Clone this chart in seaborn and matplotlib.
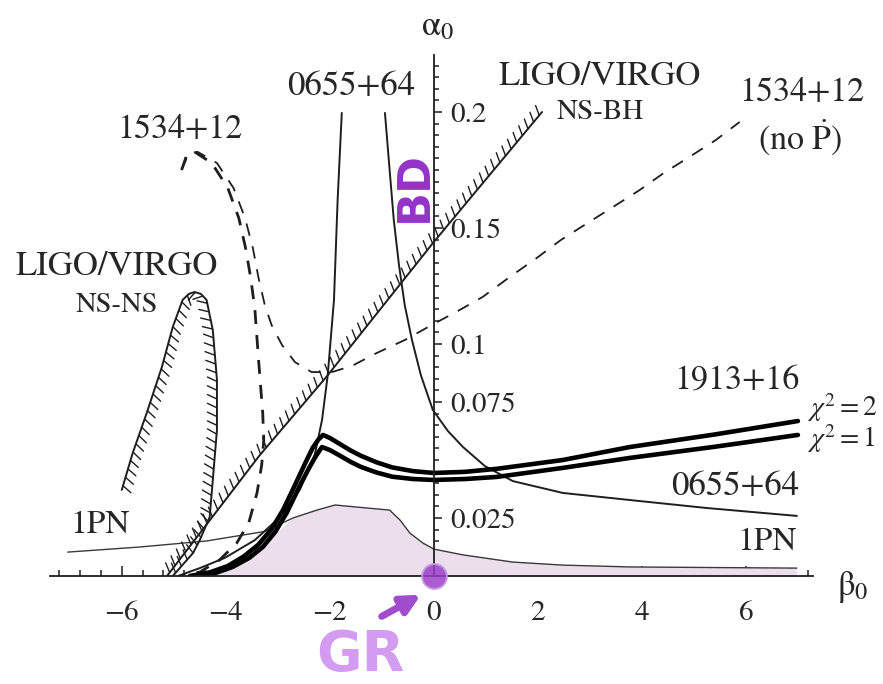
import matplotlib
matplotlib.use("Agg")
import matplotlib.pyplot as plt
import matplotlib.patheffects as pe
from matplotlib.ticker import MultipleLocator, FixedLocator, FixedFormatter
import numpy as np
import pandas as pd
import seaborn as sns

# --- curves: (beta0, alpha0) ---
# LIGO/VIRGO NS-NS excluded loop
nsns_beta = [-6.0, -5.79, -5.52, -5.23, -5.02, -4.83, -4.71, -4.6, -4.48, -4.37, -4.25, -4.17, -4.17, -4.25, -4.31, -4.5, -4.63, -5.02]
nsns_alpha = [0.0371, 0.053, 0.0703, 0.090, 0.1073, 0.119, 0.1216, 0.1224, 0.1216, 0.119, 0.106, 0.0845, 0.0629, 0.0414, 0.0254, 0.0155, 0.0099, 0.0]

# LIGO/VIRGO NS-BH line
nsbh_beta = [-5.13, -3.35, -2.06, 0.0, 2.08]
nsbh_alpha = [0.0, 0.052, 0.086, 0.144, 0.2]

# 0655+64, two branches
psr0655_left_beta = [-1.77, -1.85, -1.92, -2.04, -2.15, -2.29, -2.58, -2.96, -3.44, -4.02, -4.5, -4.92]
psr0655_left_alpha = [0.1996, 0.162, 0.119, 0.0866, 0.0672, 0.0522, 0.0371, 0.0254, 0.0155, 0.0078, 0.0034, 0.0]
psr0655_right_beta = [-0.94, -0.85, -0.77, -0.67, -0.56, -0.42, -0.25, -0.02, 0.27, 0.56, 0.98, 1.52, 2.48, 3.96, 5.25, 6.98]
psr0655_right_alpha = [0.1996, 0.175, 0.1534, 0.134, 0.1168, 0.1017, 0.0866, 0.0716, 0.0625, 0.0556, 0.0474, 0.0409, 0.0358, 0.0323, 0.0293, 0.0259]

# 1913+16, chi2 = 1 and chi2 = 2
psr1913_chi1_beta = [-4.5, -4.2, -3.87, -3.55, -3.29, -3.05, -2.83, -2.65, -2.52, -2.4, -2.29, -2.2, -2.15,
                     -2.0, -1.8, -1.6, -1.4, -1.1, -0.8, -0.4, 0.0, 0.6, 1.21, 2.48, 3.77, 5.4, 7.0]
psr1913_chi1_alpha = [0.0, 0.0013, 0.0039, 0.0078, 0.0125, 0.019, 0.0272, 0.0355, 0.0414, 0.0465, 0.0509, 0.054, 0.0556,
                      0.0543, 0.0518, 0.0492, 0.047, 0.0446, 0.0428, 0.0418, 0.0414, 0.0418, 0.0427, 0.0466, 0.0509, 0.0557, 0.0608]
psr1913_chi2_beta = [-4.69, -4.3, -3.96, -3.65, -3.38, -3.12, -2.90, -2.72, -2.58, -2.45, -2.33, -2.22, -2.13,
                     -2.0, -1.8, -1.6, -1.4, -1.1, -0.8, -0.4, 0.0, 0.6, 1.21, 2.48, 3.77, 5.4, 7.0]
psr1913_chi2_alpha = [0.0, 0.0016, 0.0043, 0.0085, 0.0134, 0.0202, 0.0284, 0.0368, 0.0435, 0.0497, 0.0552, 0.0588, 0.0608,
                      0.0595, 0.0568, 0.0541, 0.0518, 0.049, 0.0468, 0.0452, 0.0444, 0.0449, 0.0462, 0.05, 0.0556, 0.061, 0.0668]

# 1534+12 with Pdot (thick dashes) and without Pdot (thin dashes)
psr1534_beta = [-4.85, -4.75, -4.6, -4.27, -3.96, -3.75, -3.62, -3.52, -3.44, -3.37, -3.29, -3.27, -3.31, -3.4, -3.56, -3.79, -4.12, -4.5, -4.85]
psr1534_alpha = [0.175, 0.1815, 0.1828, 0.178, 0.1672, 0.1543, 0.1414, 0.1284, 0.1147, 0.0931, 0.0703, 0.0586, 0.0478, 0.0358, 0.0228, 0.0142, 0.0069, 0.0017, 0.0]
psr1534_nopdot_beta = [-4.85, -4.71, -4.54, -4.17, -3.85, -3.63, -3.48, -3.37, -3.25, -3.12, -2.92, -2.67, -2.35, -1.96, -1.58, -1.1, -0.56, -0.04, 0.5, 0.94, 1.46, 1.98, 2.44, 2.96, 3.44, 3.96, 4.42, 4.94, 5.42, 5.88]
psr1534_nopdot_alpha = [0.175, 0.1823, 0.1828, 0.178, 0.1672, 0.1543, 0.1414, 0.1284, 0.1168, 0.1082, 0.0996, 0.0922, 0.0879, 0.0879, 0.0905, 0.0961, 0.1017, 0.1082, 0.1147, 0.1203, 0.1289, 0.1371, 0.1448, 0.1522, 0.159, 0.1664, 0.1737, 0.181, 0.1879, 0.1957]

# 1PN bound (upper edge of the shaded region)
pn_beta = [-7.04, -5.65, -4.37, -3.25, -2.71, -2.25, -1.90, -0.85, -0.65, -0.46, -0.21, 0.0, 0.56, 1.52, 2.48, 3.77, 6.98]
pn_alpha = [0.0103, 0.0125, 0.0151, 0.0192, 0.025, 0.0284, 0.0306, 0.0284, 0.0241, 0.0185, 0.0142, 0.0116, 0.0091, 0.006, 0.0047, 0.0039, 0.0034]

# general relativity point
gr_beta = [0.0]
gr_alpha = [0.0]

x_ticks = [-6, -4, -2, 0, 2, 4, 6]
y_ticks = [0.025, 0.075, 0.1, 0.15, 0.2]
y_tick_labels = ["0.025", "0.075", "0.1", "0.15", "0.2"]

sns.set_theme(style="white")
plt.rcParams["font.family"] = ["STIXGeneral", "DejaVu Serif"]
plt.rcParams["mathtext.fontset"] = "stix"

fig = plt.figure(figsize=(8.83, 6.84), dpi=100)
ax = fig.add_axes([50 / 883, 108 / 684, 763 / 883, 521 / 684])
ax.set_xlim(-7.38, 7.29)
ax.set_ylim(0, 521 / 2320)

# shaded region: under the 1PN curve and right of the 1913+16 curve
left_part = [i for i, b in enumerate(psr1913_chi1_beta) if b < -3.25]
right_part = [i for i, b in enumerate(pn_beta) if b > -3.0]
shade_x = [psr1913_chi1_beta[i] for i in left_part] + [pn_beta[i] for i in right_part] + [pn_beta[-1]]
shade_y = [psr1913_chi1_alpha[i] for i in left_part] + [pn_alpha[i] for i in right_part] + [0.0]
ax.fill(shade_x, shade_y, color="#ecdeec", lw=0, zorder=1)

INK = "#1e1e1e"


def curve(bx, ay, **kw):
    kw.setdefault("solid_joinstyle", "round")
    sns.lineplot(x=bx, y=ay, sort=False, estimator=None, ax=ax, **kw)


def hatched(bx, ay, angle):
    # thin ticks first, then the line itself
    curve(bx, ay, color=INK, lw=1.0,
          path_effects=[pe.TickedStroke(spacing=6.3, angle=angle, length=1.2)])
    curve(bx, ay, color=INK, lw=1.4)


curve(pn_beta, pn_alpha, color="#3a3a3a", lw=1.0)

hatched(nsns_beta, nsns_alpha, -115)
hatched(nsbh_beta, nsbh_alpha, 60)

curve(psr0655_left_beta, psr0655_left_alpha, color=INK, lw=1.4)
curve(psr0655_right_beta, psr0655_right_alpha, color=INK, lw=1.4)

curve(psr1534_beta, psr1534_alpha, color=INK, lw=2.0, linestyle=(0, (5, 4)))
curve(psr1534_nopdot_beta, psr1534_nopdot_alpha, color=INK, lw=1.3, linestyle=(0, (7, 6)))

curve(psr1913_chi2_beta, psr1913_chi2_alpha, color="black", lw=3.3)
curve(psr1913_chi1_beta, psr1913_chi1_alpha, color="black", lw=3.3)

# axes through the origin, Mathematica style
ax.spines["top"].set_visible(False)
ax.spines["left"].set_visible(False)
ax.spines["right"].set_position(("data", 0))
ax.spines["bottom"].set_position(("data", 0))
for s in ["right", "bottom"]:
    ax.spines[s].set_color(INK)
    ax.spines[s].set_linewidth(1.3)
ax.yaxis.tick_right()
ax.xaxis.set_major_locator(FixedLocator(x_ticks))
ax.xaxis.set_minor_locator(MultipleLocator(0.4))
ax.yaxis.set_major_locator(FixedLocator(y_ticks))
ax.yaxis.set_major_formatter(FixedFormatter(y_tick_labels))
ax.yaxis.set_minor_locator(MultipleLocator(0.005))
ax.tick_params(axis="x", which="both", bottom=True, direction="in", color=INK, width=1.1)
ax.tick_params(axis="x", which="major", length=7, pad=18, labelsize=21)
ax.tick_params(axis="x", which="minor", length=4)
ax.tick_params(axis="y", which="both", right=True, left=False, direction="out", color=INK, width=1.1)
ax.tick_params(axis="y", which="major", length=6, pad=6, labelsize=21)
ax.tick_params(axis="y", which="minor", length=3.5)
ax.set_xlabel("")
ax.set_ylabel("")

ax.text(0.08, 0.2366, r"$\mathrm{\alpha}_0$", fontsize=25, ha="center", va="center")
ax.text(8.05, -0.0047, r"$\mathrm{\beta}_0$", fontsize=25, ha="center", va="center", clip_on=False)

ax.text(-1.58, 0.2108, "0655+64", fontsize=25, ha="center", va="center")
ax.text(-4.88, 0.1922, "1534+12", fontsize=24.5, ha="center", va="center")
ax.text(-6.1, 0.1332, "LIGO/VIRGO", fontsize=25, ha="center", va="center")
ax.text(-6.1, 0.1168, "NS-NS", fontsize=20.5, ha="center", va="center")
ax.text(3.19, 0.2151, "LIGO/VIRGO", fontsize=25, ha="center", va="center")
ax.text(3.21, 0.1996, "NS-BH", fontsize=21, ha="center", va="center")
ax.text(7.08, 0.2082, "1534+12", fontsize=24.5, ha="center", va="center")
ax.text(7.04, 0.1892, r"(no $\dot{\mathrm{P}}$)", fontsize=24.5, ha="center", va="center")
ax.text(5.83, 0.0836, "1913+16", fontsize=24.5, ha="center", va="center")
ax.text(7.17, 0.0726, r"$\chi^2 = 2$", fontsize=20, ha="left", va="center")
ax.text(7.17, 0.0592, r"$\chi^2 = 1$", fontsize=20, ha="left", va="center")
ax.text(5.79, 0.0384, "0655+64", fontsize=25, ha="center", va="center")
ax.text(6.4, 0.0147, "1PN", fontsize=24, ha="center", va="center")
ax.text(-6.42, 0.022, "1PN", fontsize=24, ha="center", va="center")

# hand-drawn purple marks
sns.scatterplot(x=gr_beta, y=gr_alpha, ax=ax, s=320, color="#9b3fc8", alpha=0.85,
                edgecolor="#c89be0", linewidth=1.5, zorder=6, clip_on=False)
ax.annotate("", xy=(-0.2, -0.0075), xytext=(-1.05, -0.018),
            arrowprops=dict(arrowstyle="-|>", color="#a04ccc", lw=5, mutation_scale=28),
            annotation_clip=False)
ax.text(-1.42, -0.034, "GR", fontsize=40, fontweight="bold", color="#d49cf0",
        ha="center", va="center", family="DejaVu Sans")
ax.text(-0.38, 0.1677, "BD", fontsize=32, fontweight="bold", color="#9433c8",
        rotation=90, ha="center", va="center", family="DejaVu Sans")

fig.savefig("out.png", dpi=100)
